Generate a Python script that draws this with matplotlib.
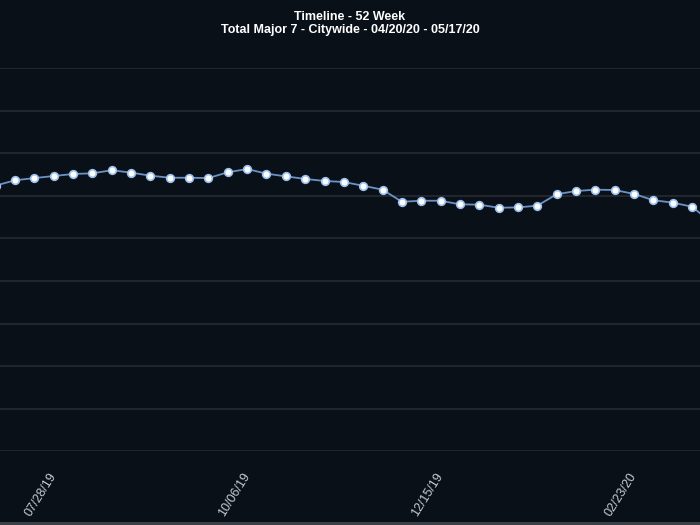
import matplotlib
matplotlib.use("Agg")
import matplotlib.pyplot as plt
from matplotlib.patches import Rectangle

# weekly totals (axis labels are cropped off in the source; values estimated)
weeks = ['07/07/19', '07/14/19', '07/21/19', '07/28/19', '08/04/19', '08/11/19',
         '08/18/19', '08/25/19', '09/01/19', '09/08/19', '09/15/19', '09/22/19',
         '09/29/19', '10/06/19', '10/13/19', '10/20/19', '10/27/19', '11/03/19',
         '11/10/19', '11/17/19', '11/24/19', '12/01/19', '12/08/19', '12/15/19',
         '12/22/19', '12/29/19', '01/05/20', '01/12/20', '01/19/20', '01/26/20',
         '02/02/20', '02/09/20', '02/16/20', '02/23/20', '03/01/20', '03/08/20',
         '03/15/20', '03/22/20']
totals = [1560, 1591, 1604, 1616, 1628, 1632, 1650, 1636, 1618, 1606,
          1606, 1604, 1638, 1657, 1630, 1614, 1599, 1587, 1581, 1559,
          1536, 1465, 1471, 1471, 1450, 1448, 1430, 1432, 1442, 1509,
          1528, 1536, 1534, 1511, 1474, 1460, 1436, 1343]
tick_labels = ['07/28/19', '10/06/19', '12/15/19', '02/23/20']

bg = '#0a1018'
fig = plt.figure(figsize=(7, 5.25), dpi=100, facecolor=bg)
ax = fig.add_axes([0, (525 - 451.4) / 525, 1, (451.4 - 68) / 525])
ax.set_facecolor(bg)

x = list(range(len(weeks)))
ax.plot(x, totals, color='#6a92c4', lw=1.3, zorder=3,
        marker='o', markersize=5.5, markerfacecolor='white',
        markeredgecolor='#9cc0ee', markeredgewidth=1.2)

# visible window only covers part of the 52 weeks
ax.set_xlim(0.225, 36.41)
ax.set_ylim(0, 2250)
ax.set_yticks(range(0, 2251, 250))
ax.yaxis.grid(True, color='#272b31', lw=1.2)
ax.tick_params(axis='y', left=False, labelleft=False)
for s in ax.spines.values():
    s.set_visible(False)

ax.set_xticks([weeks.index(t) for t in tick_labels])
ax.set_xticklabels(tick_labels, rotation=58, ha='right', va='center',
                   rotation_mode='anchor', color='#c9ccd1', fontsize=9,
                   family=['Liberation Sans', 'DejaVu Sans'])
ax.tick_params(axis='x', length=0, pad=16)

fig.text(0.5, 1 - 17 / 525, 'Timeline - 52 Week', ha='center', va='center',
         color='white', fontsize=9, fontweight='bold',
         family=['Liberation Sans', 'DejaVu Sans'])
fig.text(0.5, 1 - 30 / 525, 'Total Major 7 - Citywide - 04/20/20 - 05/17/20',
         ha='center', va='center', color='white', fontsize=9,
         fontweight='bold', family=['Liberation Sans', 'DejaVu Sans'])

fig.patches.append(Rectangle((0, 0), 1, 3 / 525, transform=fig.transFigure,
                             facecolor='#3b3f46', edgecolor='none'))

fig.savefig('out.png', dpi=100, facecolor=bg)
